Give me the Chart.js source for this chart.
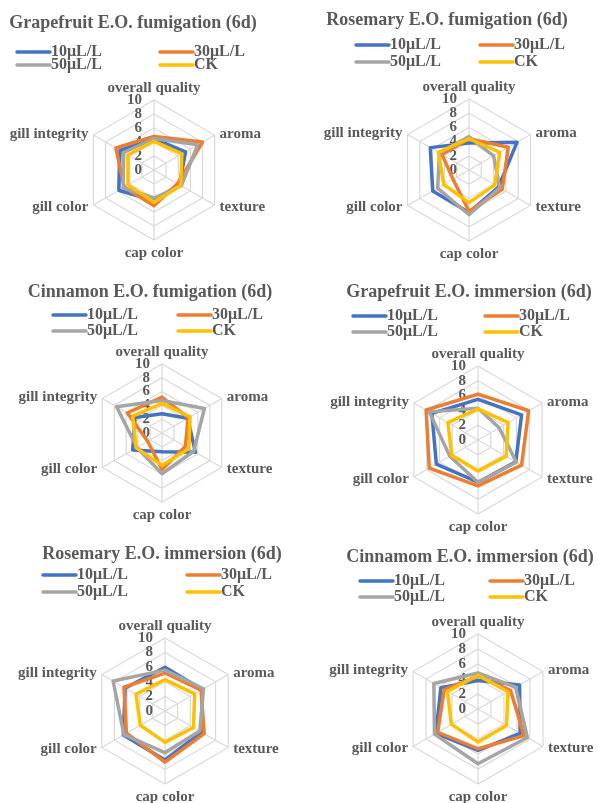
<!DOCTYPE html>
<html>
<head>
<meta charset="utf-8">
<script src="https://cdn.jsdelivr.net/npm/chart.js@4.4.1/dist/chart.umd.min.js"></script>
<style>
  body { margin: 0; background: #fff; }
  #wrap { position: relative; width: 598px; height: 803px; overflow: hidden; }
  #wrap canvas { position: absolute; }
</style>
</head>
<body>
<div id="wrap"></div>
<script>
// radar axes, series and ticks
const attributes = ["overall quality", "aroma", "texture", "cap color", "gill color", "gill integrity"];
const doses = ["10μL/L", "30μL/L", "50μL/L", "CK"];
const tickValues = [0, 2, 4, 6, 8, 10];
const titles = [
  "Grapefruit E.O. fumigation (6d)",
  "Rosemary E.O. fumigation (6d)",
  "Cinnamon E.O. fumigation (6d)",
  "Grapefruit E.O. immersion (6d)",
  "Rosemary E.O. immersion (6d)",
  "Cinnamom E.O. immersion (6d)"
];

// scores, one row per dose: 10, 30, 50, CK
const grapefruitFumigation = [
  [4.5, 5.2, 4.2, 4.4, 5.8, 5.6],
  [4.8, 8.0, 3.9, 5.1, 4.9, 6.3],
  [4.5, 7.2, 4.5, 4.0, 5.1, 5.0],
  [4.1, 4.6, 4.4, 4.6, 4.3, 4.3]
];
const rosemaryFumigation = [
  [3.8, 7.8, 4.8, 6.0, 5.9, 6.3],
  [4.4, 6.4, 5.4, 5.8, 2.6, 4.4],
  [4.7, 4.0, 5.0, 6.3, 5.1, 4.8],
  [4.4, 5.0, 4.2, 4.6, 4.1, 5.0]
];
const cinnamonFumigation = [
  [2.8, 4.3, 5.6, 2.7, 4.9, 4.5],
  [5.2, 4.4, 3.9, 5.3, 2.4, 5.8],
  [4.7, 7.1, 5.3, 5.9, 4.2, 7.6],
  [4.3, 4.7, 4.5, 4.7, 4.3, 4.9]
];
const grapefruitImmersion = [
  [5.5, 6.8, 5.9, 5.7, 6.5, 7.2],
  [6.2, 7.9, 6.8, 6.2, 7.6, 8.1],
  [4.3, 3.3, 6.0, 5.7, 4.4, 7.6],
  [4.2, 4.7, 4.4, 4.2, 4.1, 4.7]
];
const rosemaryImmersion = [
  [6.0, 5.9, 5.8, 6.7, 6.6, 6.3],
  [5.2, 5.7, 6.2, 7.0, 6.1, 6.5],
  [5.6, 6.1, 5.5, 5.7, 6.5, 8.2],
  [4.3, 4.7, 4.5, 4.3, 3.9, 4.6]
];
const cinnamonImmersion = [
  [3.8, 6.4, 6.5, 5.5, 6.5, 5.7],
  [4.4, 5.0, 7.1, 5.3, 6.2, 5.2],
  [4.8, 5.8, 7.6, 7.3, 6.7, 6.8],
  [4.5, 4.6, 4.4, 4.4, 4.1, 4.7]
];

const lineColors = ["#4472C4", "#ED7D31", "#A5A5A5", "#FFC000"];
const textColor = "#595959";
const fontFamily = '"Liberation Serif", "Times New Roman", serif';

// where each panel sits on the page (cx/cy = radar centre inside the panel)
const panels = [
  { data: grapefruitFumigation, x: 0,   y: 0,   h: 268, cx: 154, cy: 170, r: 70, tx: 133, ty: 23, lx: [17, 160], ly: [52, 65] },
  { data: rosemaryFumigation,   x: 299, y: 0,   h: 268, cx: 170, cy: 170, r: 71, tx: 148, ty: 20, lx: [57, 181], ly: [45, 62] },
  { data: cinnamonFumigation,   x: 0,   y: 268, h: 268, cx: 162, cy: 165, r: 69, tx: 150, ty: 24, lx: [53, 178], ly: [47, 63] },
  { data: grapefruitImmersion,  x: 299, y: 268, h: 268, cx: 179, cy: 172, r: 74, tx: 170, ty: 24, lx: [54, 186], ly: [48, 64] },
  { data: rosemaryImmersion,    x: 0,   y: 536, h: 267, cx: 165, cy: 175, r: 73, tx: 162, ty: 18, lx: [43, 187], ly: [39, 56] },
  { data: cinnamonImmersion,    x: 299, y: 536, h: 267, cx: 179, cy: 173, r: 75, tx: 171, ty: 21, lx: [61, 191], ly: [45, 61] }
];
const panelWidth = 299;

// title, legend, axis names and tick numbers in the Excel style
const excelText = {
  id: "excelText",
  beforeDatasetsDraw(chart) {
    const scale = chart.scales.r;
    const ctx = chart.ctx;
    ctx.save();
    ctx.font = "bold 15px " + fontFamily;
    ctx.fillStyle = textColor;
    ctx.textAlign = "right";
    ctx.textBaseline = "middle";
    tickValues.forEach((v) => {
      ctx.fillText(String(v), scale.xCenter - 12, scale.yCenter - scale.getDistanceFromCenterForValue(v));
    });
    ctx.restore();
  },
  afterDraw(chart, args, opts) {
    const scale = chart.scales.r;
    const ctx = chart.ctx;
    ctx.save();
    ctx.fillStyle = textColor;
    ctx.textBaseline = "middle";

    // axis names
    ctx.font = "bold 15px " + fontFamily;
    chart.data.labels.forEach((label, i) => {
      const p = scale.getPointPosition(i, scale.drawingArea);
      const dx = p.x - scale.xCenter;
      const dy = p.y - scale.yCenter;
      let x = p.x, y = p.y;
      if (Math.abs(dx) < 1) {
        ctx.textAlign = "center";
        y += dy < 0 ? -12 : 13;
      } else {
        ctx.textAlign = dx > 0 ? "left" : "right";
        x += dx > 0 ? 5 : -5;
        y += dy < 0 ? -1 : 2;
      }
      ctx.fillText(label, x, y);
    });

    // title
    ctx.font = "bold 18px " + fontFamily;
    ctx.textAlign = "center";
    ctx.fillText(opts.title, opts.tx, opts.ty);

    // legend, two columns
    ctx.font = "bold 16px " + fontFamily;
    ctx.textAlign = "left";
    chart.data.datasets.forEach((ds, k) => {
      const x0 = opts.lx[k % 2];
      const y0 = opts.ly[Math.floor(k / 2)];
      ctx.strokeStyle = ds.borderColor;
      ctx.lineWidth = 3.5;
      ctx.lineCap = "round";
      ctx.beginPath();
      ctx.moveTo(x0, y0);
      ctx.lineTo(x0 + 33, y0);
      ctx.stroke();
      ctx.fillText(ds.label, x0 + 34, y0);
    });
    ctx.restore();
  }
};

const wrap = document.getElementById("wrap");

panels.forEach((p, n) => {
  const canvas = document.createElement("canvas");
  canvas.width = panelWidth;
  canvas.height = p.h;
  canvas.style.left = p.x + "px";
  canvas.style.top = p.y + "px";
  wrap.appendChild(canvas);

  new Chart(canvas, {
    type: "radar",
    data: {
      labels: attributes,
      datasets: doses.map((name, i) => ({
        label: name,
        data: p.data[i],
        borderColor: lineColors[i],
        backgroundColor: lineColors[i],
        borderWidth: 3.5,
        borderJoinStyle: "round",
        fill: false,
        pointRadius: 0,
        pointHoverRadius: 0,
        order: doses.length - 1 - i
      }))
    },
    options: {
      responsive: false,
      animation: false,
      events: [],
      layout: {
        padding: {
          left: p.cx - p.r,
          right: panelWidth - p.cx - p.r,
          top: p.cy - p.r,
          bottom: p.h - p.cy - p.r
        }
      },
      plugins: {
        legend: { display: false },
        title: { display: false },
        tooltip: { enabled: false },
        excelText: { title: titles[n], tx: p.tx, ty: p.ty, lx: p.lx, ly: p.ly }
      },
      scales: {
        r: {
          min: 0,
          max: 10,
          ticks: { display: false, stepSize: 2 },
          pointLabels: { display: false },
          grid: { color: "#d9d9d9", lineWidth: 1.2 },
          angleLines: { color: "#d9d9d9", lineWidth: 1.2 }
        }
      }
    },
    plugins: [excelText]
  });
});
</script>
</body>
</html>
